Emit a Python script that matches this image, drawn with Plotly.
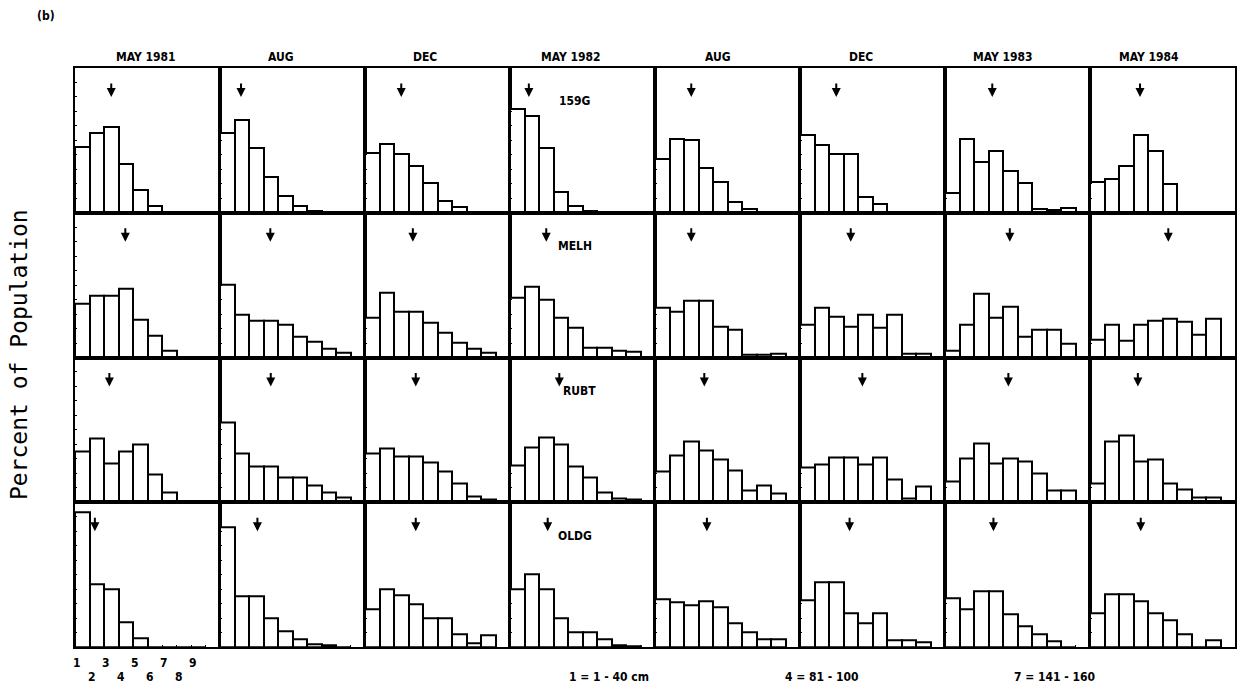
import plotly.graph_objects as go
from plotly.subplots import make_subplots

# Sampling dates (columns) and sites (rows)
periods = ["MAY 1981", "AUG", "DEC", "MAY 1982", "AUG", "DEC", "MAY 1983", "MAY 1984"]
sites = ["159G", "MELH", "RUBT", "OLDG"]
size_classes = [1, 2, 3, 4, 5, 6, 7, 8, 9]
class_labels = ["1", "2", "3", "4", "5", "6", "7", "8", "9"]

# Percent of population in each size class, one list per sampling date
pct_159g = [
    [22.8, 27.4, 29.6, 16.7, 7.7, 2.5, 0.3, 0, 0],
    [27.4, 32.0, 22.4, 12.4, 5.8, 2.3, 0.5, 0, 0],
    [20.7, 23.8, 20.4, 16.3, 10.4, 4.0, 2.0, 0, 0],
    [35.7, 33.4, 22.4, 7.2, 2.5, 0.5, 0, 0, 0],
    [18.6, 25.6, 25.0, 15.4, 10.5, 3.7, 1.2, 0, 0],
    [26.8, 23.5, 20.4, 20.4, 5.3, 2.9, 0, 0, 0],
    [6.8, 25.6, 17.7, 21.5, 14.5, 10.3, 1.2, 1.0, 1.5],
    [10.7, 11.7, 16.1, 27.0, 21.5, 9.9, 0, 0, 0],
]
pct_melh = [
    [18.4, 21.3, 21.3, 23.6, 13.2, 7.5, 2.5, 0, 0],
    [25.3, 14.6, 12.7, 12.7, 11.3, 7.2, 5.5, 2.9, 1.7],
    [13.8, 22.4, 15.8, 15.8, 12.1, 8.6, 5.2, 2.9, 1.7],
    [20.7, 24.4, 20.1, 13.8, 10.4, 3.5, 3.5, 2.3, 2.1],
    [17.2, 15.7, 19.6, 19.6, 10.5, 9.6, 1.0, 1.0, 1.4],
    [11.4, 17.2, 14.0, 10.5, 14.9, 10.3, 14.9, 1.4, 1.4],
    [2.4, 11.4, 21.9, 13.7, 17.7, 7.2, 9.6, 9.6, 4.7],
    [6.1, 11.4, 5.8, 11.4, 12.6, 13.4, 12.2, 7.9, 13.4],
]
pct_rubt = [
    [17.5, 22.1, 13.4, 17.7, 19.8, 9.6, 3.5, 0, 0],
    [27.4, 16.9, 12.2, 12.2, 8.7, 8.7, 5.8, 3.5, 1.8],
    [16.9, 18.4, 15.7, 15.7, 13.7, 10.5, 6.4, 2.1, 1.0],
    [12.6, 18.9, 22.4, 19.8, 12.2, 8.7, 3.5, 1.2, 1.0],
    [10.5, 16.0, 21.0, 18.0, 14.6, 10.8, 4.1, 5.8, 2.9],
    [12.0, 13.2, 15.5, 15.5, 13.2, 15.5, 7.8, 1.2, 5.5],
    [7.0, 15.1, 20.4, 13.4, 15.1, 14.0, 10.1, 4.1, 4.1],
    [6.4, 21.0, 22.9, 14.0, 14.8, 6.4, 4.3, 1.5, 1.5],
]
pct_oldg = [
    [46.5, 21.8, 20.0, 8.5, 3.0, 0, 0, 0, 0],
    [41.2, 17.7, 17.7, 10.0, 5.3, 2.6, 1.0, 0.7, 0],
    [13.0, 20.0, 17.9, 14.7, 10.0, 10.0, 4.5, 1.2, 4.1],
    [20.0, 25.0, 20.0, 10.0, 5.0, 5.0, 2.6, 0.6, 0.3],
    [16.4, 15.6, 14.4, 15.9, 13.6, 8.2, 5.0, 2.7, 2.7],
    [16.1, 22.2, 22.2, 11.5, 8.2, 11.5, 2.4, 2.4, 1.5],
    [16.7, 13.2, 19.1, 19.1, 11.2, 7.0, 4.5, 1.9, 0],
    [11.7, 18.2, 18.2, 15.9, 11.7, 9.1, 4.5, 0, 2.4],
]

# Mean size class (arrow position, in size-class units)
mean_159g = [3.0, 1.95, 3.0, 1.8, 3.0, 3.0, 3.76, 3.95]
mean_melh = [3.97, 3.97, 3.8, 3.0, 3.0, 4.0, 4.97, 5.9]
mean_rubt = [2.87, 4.0, 4.0, 3.9, 3.9, 4.8, 4.87, 3.8]
mean_oldg = [1.87, 3.08, 4.0, 3.1, 4.08, 3.92, 3.84, 4.0]

size_key = ["1 = 1 - 40 cm", "4 = 81 - 100", "7 = 141 - 160"]

pct_by_site = [pct_159g, pct_melh, pct_rubt, pct_oldg]
mean_by_site = [mean_159g, mean_melh, mean_rubt, mean_oldg]

W, H = 1241, 686
ML, MR, MT, MB = 75, 4, 68, 39
PW, PH = W - ML - MR, H - MT - MB
NR, NC = 4, 8
Y_MAX = 50
X_RANGE = [0.5, 10.5]

# text placement (pixels)
header_px = [146, 281, 426, 572, 719, 862, 1005, 1151]
site_label_x = [5.0, 5.0, 5.3, 5.0]
key_px = [610, 823, 1056]

label_font = "Liberation Sans Narrow, DejaVu Sans Condensed, Liberation Sans, sans-serif"


def px_x(xpix):
    return (xpix - ML) / PW


def px_y(ypix):
    return (H - MB - ypix) / PH


fig = make_subplots(rows=NR, cols=NC, horizontal_spacing=0, vertical_spacing=0)

annotations = []
for r in range(NR):
    for c in range(NC):
        n = r * NC + c + 1
        fig.add_trace(
            go.Bar(
                x=size_classes,
                y=pct_by_site[r][c],
                width=1,
                marker=dict(color="white", line=dict(color="black", width=2)),
                showlegend=False,
                hoverinfo="x+y",
            ),
            row=r + 1, col=c + 1,
        )
        xr = "x" if n == 1 else f"x{n}"
        yr = "y" if n == 1 else f"y{n}"
        # mean size-class arrow
        annotations.append(dict(
            xref=xr, yref=yr, x=mean_by_site[r][c], y=Y_MAX * 0.8,
            ax=0, ay=-15, text="", showarrow=True,
            arrowhead=2, arrowsize=0.9, arrowwidth=2, arrowcolor="black",
        ))

# site labels in the MAY 1982 column
for r, name in enumerate(sites):
    n = r * NC + 4
    annotations.append(dict(
        xref=f"x{n}", yref=f"y{n}", x=site_label_x[r], y=Y_MAX * 0.77,
        text=f"<b>{name}</b>", showarrow=False, xanchor="center",
        font=dict(family=label_font, size=12, color="black"),
    ))

# column headers
for p, xpix in zip(periods, header_px):
    annotations.append(dict(
        xref="paper", yref="paper", x=px_x(xpix), y=px_y(57),
        text=f"<b>{p}</b>", showarrow=False, xanchor="center", yanchor="middle",
        font=dict(family=label_font, size=12, color="black"),
    ))

# size-class numbers under the bottom-left panel (staggered)
for i, lab in enumerate(class_labels):
    ypix = 663 if i % 2 == 0 else 677
    annotations.append(dict(
        xref=f"x{(NR - 1) * NC + 1}", yref="paper", x=size_classes[i] - 0.33,
        y=px_y(ypix), text=f"<b>{lab}</b>", showarrow=False,
        xanchor="center", yanchor="middle",
        font=dict(family=label_font, size=12, color="black"),
    ))

# size-class key along the bottom edge
for txt, xpix in zip(size_key, key_px):
    annotations.append(dict(
        xref="paper", yref="paper", x=px_x(xpix), y=px_y(677),
        text=f"<b>{txt}</b>", showarrow=False, xanchor="center", yanchor="middle",
        font=dict(family=label_font, size=12, color="black"),
    ))

# panel tag and y-axis title
annotations.append(dict(
    xref="paper", yref="paper", x=px_x(46), y=px_y(16),
    text="<b>(b)</b>", showarrow=False, xanchor="center", yanchor="middle",
    font=dict(family=label_font, size=12, color="black"),
))
annotations.append(dict(
    xref="paper", yref="paper", x=px_x(19), y=px_y(355),
    text="Percent of Population", showarrow=False, textangle=-90,
    xanchor="center", yanchor="middle",
    font=dict(family="DejaVu Sans Mono, monospace", size=23, color="black"),
))

fig.update_xaxes(
    range=X_RANGE, showticklabels=False, showgrid=False, zeroline=False,
    showline=True, mirror=True, linecolor="black", linewidth=2,
    ticks="inside", ticklen=2, tickcolor="black",
    tickvals=[k + 0.5 for k in range(10)],
)
fig.update_yaxes(
    range=[0, Y_MAX], showticklabels=False, showgrid=False, zeroline=False,
    showline=True, mirror=True, linecolor="black", linewidth=2,
    ticks="inside", ticklen=2, tickcolor="black", dtick=5,
)

fig.update_layout(
    width=W, height=H,
    margin=dict(l=ML, r=MR, t=MT, b=MB),
    paper_bgcolor="white", plot_bgcolor="white",
    bargap=0, showlegend=False,
    annotations=annotations,
)

fig.write_html("out.html")
